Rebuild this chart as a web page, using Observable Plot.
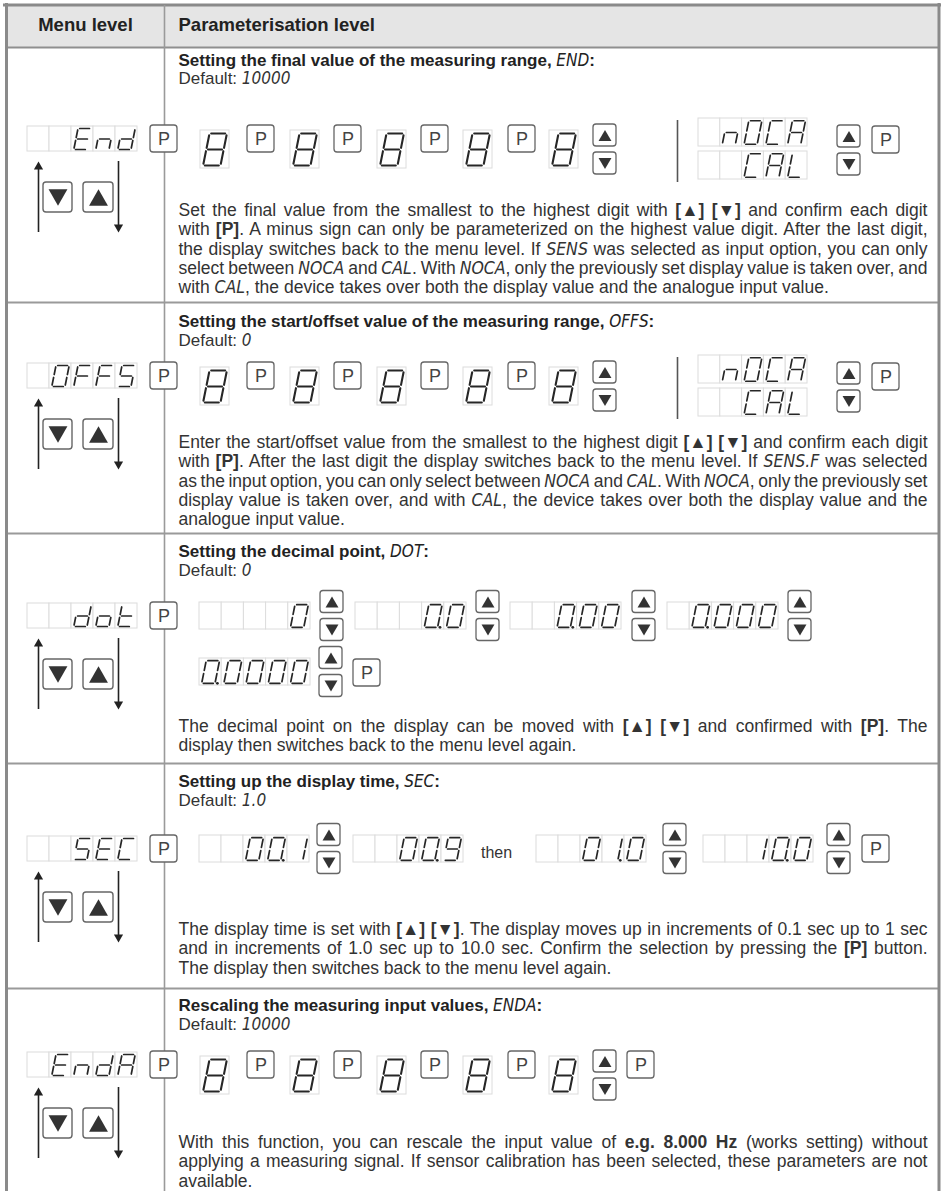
<!DOCTYPE html>
<html><head><meta charset="utf-8">
<script src="https://cdn.jsdelivr.net/npm/d3@7"></script>
<script src="https://cdn.jsdelivr.net/npm/@observablehq/plot@0.6"></script>
<style>html,body{margin:0;padding:0;background:#fff;} svg{display:block}</style>
</head><body><div id="chart"></div>
<script>
// ================= DATA (content) =================
const headers = ["Menu level", "Parameterisation level"];
const titles = [
  "Setting the final value of the measuring range, _END_:",
  "Setting the start/offset value of the measuring range, _OFFS_:",
  "Setting the decimal point, _DOT_:",
  "Setting up the display time, _SEC_:",
  "Rescaling the measuring input values, _ENDA_:"
];
const defaults = ["10000", "0", "0", "1.0", "10000"];
const menuCodes = [
  ["", "", "E", "n", "d"],
  ["", "O", "F", "F", "S"],
  ["", "", "d", "o", "t"],
  ["", "", "S", "E", "C"],
  ["", "E", "n", "d", "A"]
];
const entryDigits = ["8", "8", "8", "8", "8"];
const choiceCodes = [["", "n", "O", "C", "A"], ["", "", "C", "A", "L"]];
const decimalSteps = [
  ["", "", "", "", "0"],
  ["", "", "", "0.", "0"],
  ["", "", "0.", "0", "0"],
  ["", "0.", "0", "0", "0"],
  ["0.", "0", "0", "0", "0"]
];
const timeSteps = [
  ["", "", "0", "0.", "1"],
  ["", "", "0", "0.", "9"],
  ["", "", "0", "1.", "0"],
  ["", "", "1", "0.", "0"]
];
const thenWord = "then";
const buttonLabel = "P";
const paragraphs = [
  ["Set the final value from the smallest to the highest digit with *[▲] [▼]* and confirm each digit",
   "with *[P]*. A minus sign can only be parameterized on the highest value digit. After the last digit,",
   "the display switches back to the menu level. If _SENS_ was selected as input option, you can only",
   "select between _NOCA_ and _CAL_. With _NOCA_, only the previously set display value is taken over, and",
   "with _CAL_, the device takes over both the display value and the analogue input value."],
  ["Enter the start/offset value from the smallest to the highest digit *[▲] [▼]* and confirm each digit",
   "with *[P]*. After the last digit the display switches back to the menu level. If _SENS.F_ was selected",
   "as the input option, you can only select between _NOCA_ and _CAL_. With _NOCA_, only the previously set",
   "display value is taken over, and with _CAL_, the device takes over both the display value and the",
   "analogue input value."],
  ["The decimal point on the display can be moved with *[▲] [▼]* and confirmed with *[P]*. The",
   "display then switches back to the menu level again."],
  ["The display time is set with *[▲] [▼]*. The display moves up in increments of 0.1 sec up to 1 sec",
   "and in increments of 1.0 sec up to 10.0 sec. Confirm the selection by pressing the *[P]* button.",
   "The display then switches back to the menu level again."],
  ["With this function, you can rescale the input value of *e.g. 8.000 Hz* (works setting) without",
   "applying a measuring signal. If sensor calibration has been selected, these parameters are not",
   "available."]
];

// ================= LAYOUT =================
const W = 942, H = 1191;
const SANS = "'Liberation Sans', Arial, Helvetica, sans-serif";
const NARROW = "'Liberation Sans Narrow', 'DejaVu Sans Condensed', 'Liberation Sans', sans-serif";
const rowTop = [47, 302, 533, 763, 988];
const colX = 164, textX = 178, textW = 749, menuCX = 85;
const B = [125, 362, 602, 835, 1051];          // button row top per table row
const titleY = [60, 321, 551, 781, 1005];
const defaultY = [78, 340, 570, 800, 1024];
const paraY = [210, 442, 726, 929, 1142];
const lineH = 19.3;
const entryX = [200, 290, 377, 463, 549];
const entryPX = [247, 334, 421, 508];
const cw = 22;

// 7-segment definitions
const SEG = {a:[[0,0],[1,0]], b:[[1,0],[1,.5]], c:[[1,.5],[1,1]], d:[[0,1],[1,1]],
             e:[[0,.5],[0,1]], f:[[0,0],[0,.5]], g:[[0,.5],[1,.5]]};
const CHARSEG = {"0":"abcdef","1":"bc","8":"abcdefg","9":"abcdfg","E":"adefg","n":"ceg",
  "d":"bcdeg","O":"abcdef","F":"aefg","S":"acdfg","o":"cdeg","t":"defg","C":"adef","A":"abcefg","L":"def"};

const cellRects = [], segs = [], dps = [];
function display(x, y, w, h, cells, sw = 1.7) {
  cells.forEach((c, i) => {
    const x1 = x + i * w;
    cellRects.push({x1, x2: x1 + w, y1: y, y2: y + h});
    if (!c) return;
    const base = c.replace(".", "");
    const gw = w * 0.6, gh = h * 0.84, sl = 0.2 * gh;
    const gx = x1 + (w - gw) / 2 - sl / 2, gy = y + (h - gh) / 2;
    const P = (u, v) => [gx + u * gw + (1 - v) * sl, gy + v * gh];
    for (const s of (CHARSEG[base] || "")) {
      const [[u1, v1], [u2, v2]] = SEG[s];
      const [X1, Y1] = P(u1, v1), [X2, Y2] = P(u2, v2);
      const L = Math.hypot(X2 - X1, Y2 - Y1), g = Math.min(1.7, L * 0.14);
      const dx = (X2 - X1) / L * g, dy = (Y2 - Y1) / L * g;
      segs.push({x1: X1 + dx, y1: Y1 + dy, x2: X2 - dx, y2: Y2 - dy, sw});
    }
    if (c.endsWith(".")) dps.push({x: gx + gw + 2.4, y: gy + gh});
  });
}
const buttons = [];
function pBtn(x, y) { buttons.push({x1: x, x2: x + 27, y1: y, y2: y + 27, kind: "P"}); }
function pair(x, cy) {
  buttons.push({x1: x, x2: x + 23, y1: cy - 25, y2: cy - 3, kind: "up"});
  buttons.push({x1: x, x2: x + 23, y1: cy + 3, y2: cy + 25, kind: "down"});
}
const bigButtons = [], arrowLines = [], arrowHeads = [];

menuCodes.forEach((code, r) => {
  const b = B[r];
  display(27, b + 1, cw, 25, code);
  pBtn(150, b);
  bigButtons.push({x1: 43, x2: 72, y1: b + 57, y2: b + 87, kind: "down"});
  bigButtons.push({x1: 83, x2: 113, y1: b + 57, y2: b + 87, kind: "up"});
  arrowLines.push({x: 38, y1: b + 41, y2: b + 107});
  arrowLines.push({x: 118, y1: b + 36, y2: b + 102});
  arrowHeads.push({x: 38, y: b + 36 + 5.3, rot: 0});
  arrowHeads.push({x: 118, y: b + 107 - 5.3, rot: 180});
});

// rows with digit-by-digit entry (rows 0, 1, 4)
const separators = [];
[0, 1, 4].forEach(r => {
  const b = B[r];
  entryDigits.forEach((d, i) => display(entryX[i], b + 5, 29, 38, [d], 2.1));
  entryPX.forEach(x => pBtn(x, b));
  pair(593, b + 24);
  if (r === 4) pBtn(627, b);
  else {
    separators.push({x: 677, y1: b - 5, y2: b + 57});
    display(698, b - 7, 21.8, 28, choiceCodes[0]);
    display(698, b + 26, 21.8, 28, choiceCodes[1]);
    pair(837, b + 25);
    pBtn(872, b + 1);
  }
});
// decimal point row
const decX = [199, 355, 510, 667, 199], decPX = [320, 476, 632, 788, 319];
decimalSteps.forEach((s, i) => {
  const y = i < 4 ? B[2] : B[2] + 56;
  display(decX[i], y, 22.2, 27, s);
  pair(decPX[i], y + 13.5);
});
pBtn(353, B[2] + 57);
// display time row
const timeX = [199, 353, 536, 703], timePX = [317, null, 663, 827];
timeSteps.forEach((s, i) => {
  display(timeX[i], B[3], 22, 27, s);
  if (timePX[i] != null) pair(timePX[i], B[3] + 13.5);
});
pBtn(862, B[3]);
const thenLabel = [{x: 496, y: B[3] + 17, text: thenWord}];

// table rules
const hRules = [
  {y: 4.5, x1: 3, x2: 941, w: 3, c: "#8a8a8a"},
  {y: 47, x1: 6, x2: 938, w: 2, c: "#8f8f8f"},
  ...rowTop.slice(1).map(y => ({y, x1: 6, x2: 938, w: 2, c: "#9a9a9a"}))
];
const vRules = [
  {x: 6, y1: 3, y2: H, w: 3, c: "#8a8a8a"},
  {x: 938.5, y1: 3, y2: H, w: 3, c: "#8a8a8a"},
  {x: colX, y1: 5, y2: H, w: 1.6, c: "#9a9a9a"}
];

// text lines
const titleRows = titles.map((t, i) => ({text: t, y: titleY[i]}));
const defaultRows = defaults.map((d, i) => ({text: "Default: _" + d + "_", y: defaultY[i]}));
const paraRows = paragraphs.flatMap((lines, i) => lines.map((t, j) => ({
  text: t, y: paraY[i] + j * lineH, justify: j < lines.length - 1
})));
const justifySet = new Set(paraRows.filter(d => d.justify).map(d => d.text));

const triShift = (r) => 0.5 * Math.sqrt(Math.PI * r * r / (3 * Math.sqrt(3)));
const smallTris = buttons.filter(d => d.kind !== "P").map(d => ({
  x: (d.x1 + d.x2) / 2, y: (d.y1 + d.y2) / 2 + (d.kind === "up" ? 1 : -1) * triShift(4.8), rot: d.kind === "up" ? 0 : 180}));
const bigTris = bigButtons.map(d => ({
  x: (d.x1 + d.x2) / 2, y: (d.y1 + d.y2) / 2 + (d.kind === "up" ? 1 : -1) * triShift(7), rot: d.kind === "up" ? 0 : 180}));
const pBtns = buttons.filter(d => d.kind === "P");

const svg = Plot.plot({
  width: W, height: H, margin: 0,
  x: {domain: [0, W], range: [0, W], axis: null},
  y: {domain: [0, H], range: [0, H], axis: null},
  color: {type: "identity"},
  style: {background: "#fff", fontFamily: SANS, color: "#222"},
  marks: [
    Plot.rect([{x1: 6, x2: 938, y1: 5, y2: 47}], {x1: "x1", x2: "x2", y1: "y1", y2: "y2", fill: "#e5e5e5"}),
    Plot.ruleY(hRules, {y: "y", x1: "x1", x2: "x2", stroke: "c", strokeWidth: "w"}),
    Plot.ruleX(vRules, {x: "x", y1: "y1", y2: "y2", stroke: "c", strokeWidth: "w"}),
    Plot.ruleX(separators, {x: "x", y1: "y1", y2: "y2", stroke: "#555", strokeWidth: 1.6}),
    // 7-seg displays
    Plot.rect(cellRects, {x1: "x1", x2: "x2", y1: "y1", y2: "y2", fill: "#fff", stroke: "#dcdcdc", strokeWidth: 1}),
    Plot.link(segs, {x1: "x1", y1: "y1", x2: "x2", y2: "y2", stroke: "#262626", strokeWidth: "sw", strokeLinecap: "round"}),
    Plot.dot(dps, {x: "x", y: "y", r: 1.4, fill: "#262626", stroke: "none"}),
    // buttons
    Plot.rect(buttons, {x1: "x1", x2: "x2", y1: "y1", y2: "y2", fill: "#fff", stroke: "#666", strokeWidth: 1.3, rx: 3}),
    Plot.rect(bigButtons, {x1: "x1", x2: "x2", y1: "y1", y2: "y2", fill: "#fff", stroke: "#666", strokeWidth: 1.4, rx: 3}),
    Plot.text(pBtns, {x: d => (d.x1 + d.x2) / 2, y: d => (d.y1 + d.y2) / 2 + 0.5, text: () => buttonLabel, fontSize: 18, fill: "#444"}),
    Plot.dot(smallTris, {x: "x", y: "y", symbol: "triangle", r: 4.8, rotate: "rot", fill: "#333", stroke: "none"}),
    Plot.dot(bigTris, {x: "x", y: "y", symbol: "triangle", r: 7, rotate: "rot", fill: "#333", stroke: "none"}),
    // arrows
    Plot.ruleX(arrowLines, {x: "x", y1: "y1", y2: "y2", stroke: "#222", strokeWidth: 1.6}),
    Plot.dot(arrowHeads, {x: "x", y: "y", symbol: "triangle", r: 3.4, rotate: "rot", fill: "#222", stroke: "none"}),
    // texts
    Plot.text([headers[0]], {x: menuCX, y: 25, text: d => d, fontSize: 18.5, fontWeight: "bold", fill: "#222"}),
    Plot.text([headers[1]], {x: textX, y: 25, text: d => d, textAnchor: "start", fontSize: 18.5, fontWeight: "bold", fill: "#222"}),
    Plot.text(titleRows, {x: textX, y: "y", text: "text", textAnchor: "start", fontSize: 17, fontWeight: "bold", fill: "#222"}),
    Plot.text(defaultRows, {x: textX, y: "y", text: "text", textAnchor: "start", fontSize: 17, fill: "#333"}),
    Plot.text(paraRows, {x: textX, y: "y", text: "text", textAnchor: "start", fontSize: 17.5, fill: "#333"}),
    Plot.text(thenLabel, {x: "x", y: "y", text: "text", fontSize: 16, fill: "#333"})
  ]
});
document.getElementById("chart").appendChild(svg);

// rich text: *bold*, _code_ ; justify full paragraph lines
const NS = "http://www.w3.org/2000/svg";
const toJustify = [];
d3.select(svg).selectAll("text").each(function() {
  const s = this.textContent;
  if (justifySet.has(s)) toJustify.push(this);
  if (!/[*_]/.test(s)) return;
  while (this.firstChild) this.removeChild(this.firstChild);
  s.split(/(\*[^*]+\*|_[^_]+_)/).forEach(part => {
    if (!part) return;
    const t = document.createElementNS(NS, "tspan");
    if (part[0] === "*") { t.textContent = part.slice(1, -1); t.setAttribute("font-weight", "bold"); }
    else if (part[0] === "_") {
      t.textContent = part.slice(1, -1);
      t.setAttribute("font-style", "italic"); t.setAttribute("font-weight", "normal");
      t.setAttribute("font-family", NARROW);
    } else t.textContent = part;
    this.appendChild(t);
  });
});
toJustify.forEach(el => {
  const len = el.getComputedTextLength();
  const n = (el.textContent.match(/ /g) || []).length;
  if (!n || !len) return;
  const ws = (textW - len) / n;
  el.setAttribute("word-spacing", ws);
  el.style.wordSpacing = ws + "px";
  const after = el.getBBox().width;
  if (Math.abs(after - textW) > 4) {
    el.style.wordSpacing = "";
    el.removeAttribute("word-spacing");
    el.setAttribute("textLength", textW);
    el.setAttribute("lengthAdjust", "spacing");
  }
});
</script>
</body></html>
